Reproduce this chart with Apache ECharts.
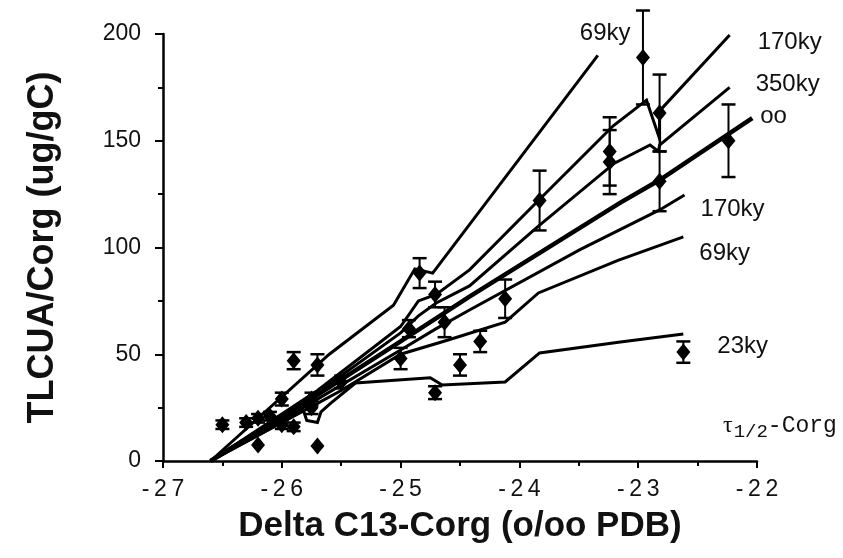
<!DOCTYPE html>
<html>
<head>
<meta charset="utf-8">
<script src="https://cdn.jsdelivr.net/npm/echarts@6/dist/echarts.min.js"></script>
<style>
html,body{margin:0;padding:0;background:#fff;}
#chart{width:843px;height:558px;}
</style>
</head>
<body>
<div id="chart"></div>
<script>
// Observations: [delta13C, TLCUA/Corg, error]
const obsX   = [-26.50,-26.30,-26.20,-26.20,-26.10,-26.00,-26.00,-25.90,-25.90,-25.75,-25.75,-25.70,-25.70,-25.50,-25.00,-24.93,-24.84,-24.71,-24.63,-24.71,-24.50,-24.33,-24.12,-23.83,-23.24,-23.24,-22.96,-22.82,-22.82,-22.24,-22.62];
const obsY   = [17,18,7.5,20,21,29,17,47,16,25,29,45,7,37,48,62,88,78,65,32,45,56,76,122,145,140,189,163,131,150,51];
const obsErr = [2,2,0,2,2,3,2,4,2,3,3,5,0,3,5,4,7,6,7,3,5,5,9,14,16,15,22,18,14,17,5];

// Model curves (tau 1/2 of Corg)
const m69aX  = [-26.6,-25.6,-25.06,-24.88,-24.73,-23.34];
const m69aY  = [0,50,73,90,88,190];
const m170aX = [-26.6,-25.7,-25.0,-24.85,-24.7,-24.42,-23.84,-23.21,-22.93,-22.82,-22.82,-22.23];
const m170aY = [0,33,63,75,78,89.5,122,157,169,151,164,199.5];
const m350X  = [-26.6,-25.7,-25.0,-24.85,-24.7,-24.42,-23.84,-23.2,-22.9,-22.83,-22.82,-22.23];
const m350Y  = [0,32,60,68,74,82,110,139.5,148,145,148,175];
const mInfX  = [-26.6,-25.7,-25.0,-24.42,-23.15,-22.82,-22.04];
const mInfY  = [0,31,56,77,121,131.6,160.6];
const m170bX = [-26.6,-25.7,-25.0,-24.7,-24.42,-23.49,-22.82,-22.61];
const m170bY = [0,29,52,62,70.7,99,117.6,124.6];
const m69bX  = [-26.6,-25.7,-25.5,-25.0,-24.6,-24.12,-23.84,-23.17,-22.62];
const m69bY  = [0,27,33,50,56.7,65,78.7,94,105];
const m23X   = [-26.6,-26.0,-25.82,-25.79,-25.7,-25.67,-25.59,-25.38,-24.75,-24.65,-24.12,-23.83,-23.15,-22.62];
const m23Y   = [0,18,24,19,18,23,27,36.5,39,35.6,37,50.6,55.7,59.5];

const xTickLabels = ['-27','-26','-25','-24','-23','-22'];
const yTickLabels = ['0','50','100','150','200'];

function pairs(xs, ys){ return xs.map((x,i)=>[x, ys[i]]); }

const chart = echarts.init(document.getElementById('chart'), null, {renderer:'canvas'});

const FONT = 'Liberation Sans, Arial, Helvetica, sans-serif';
const labelFont = {fontFamily:FONT, fontSize:24, color:'#111'};

function curve(name, xs, ys, width, labelOffset){
  return {
    type:'line', name:name, data:pairs(xs,ys), symbol:'none', silent:true,
    lineStyle:{color:'#000', width:width, join:'miter', opacity:1},
    z:2,
    endLabel:Object.assign({show:true, formatter:name.trim(), offset:labelOffset}, labelFont),
    animation:false
  };
}

const option = {
  animation:false,
  backgroundColor:'#fff',
  grid:{left:163, right:86, top:34, bottom:97, containLabel:false},
  title:{
    text:'{t|τ}{s|1/2}{c|-Corg}',
    left:718, top:405,
    textStyle:{fontWeight:'normal', rich:{
      t:{fontFamily:'Liberation Serif, DejaVu Serif, serif', fontSize:24, fontWeight:'normal', color:'#111', padding:[0,1,0,0]},
      s:{fontFamily:'Liberation Mono, DejaVu Sans Mono, monospace', fontSize:19, fontWeight:'normal', color:'#111', padding:[12,0,0,0]},
      c:{fontFamily:'Liberation Mono, DejaVu Sans Mono, monospace', fontSize:23, fontWeight:'normal', color:'#111'}
    }}
  },
  xAxis:{
    type:'value', min:-27, max:-22, interval:1,
    name:'Delta C13-Corg (o/oo PDB)', nameLocation:'middle', nameGap:48,
    nameTextStyle:{fontFamily:FONT, fontSize:35, fontWeight:'bold', color:'#111'},
    axisLine:{show:true, onZero:false, lineStyle:{color:'#000', width:2.5}},
    axisTick:{show:true, inside:false, length:7, lineStyle:{color:'#000', width:2}},
    minorTick:{show:true, splitNumber:2, length:5, lineStyle:{color:'#000', width:2}},
    splitLine:{show:false},
    axisLabel:{
      margin:17, color:'#111', fontFamily:FONT, fontSize:23,
      formatter:function(v){ const i = Math.round(v + 27); const s = xTickLabels[i] || String(v); return s.split('').join('\u2009'); }
    }
  },
  yAxis:{
    type:'value', min:0, max:200, interval:50,
    name:'TLCUA/Corg (ug/gC)', nameLocation:'middle', nameGap:102, nameRotate:90,
    nameTextStyle:{fontFamily:FONT, fontSize:36, fontWeight:'bold', color:'#111'},
    axisLine:{show:true, onZero:false, lineStyle:{color:'#000', width:2.5}},
    axisTick:{show:true, inside:false, length:8, lineStyle:{color:'#000', width:2}},
    minorTick:{show:true, splitNumber:2, length:5, lineStyle:{color:'#000', width:2}},
    splitLine:{show:false},
    axisLabel:{
      margin:22, color:'#111', fontFamily:FONT, fontSize:23,
      formatter:function(v){ return yTickLabels[Math.round(v/50)] || String(v); }
    }
  },
  series:[
    curve('69ky', m69aX, m69aY, 3, [-26,-22]),
    curve('170ky', m170aX, m170aY, 3, [20,7]),
    curve('350ky', m350X, m350Y, 3, [18,-3]),
    curve('oo', mInfX, mInfY, 4.5, [0,-2]),
    curve('170ky ', m170bX, m170bY, 3, [8,14]),
    curve('69ky ', m69bX, m69bY, 3, [8,17]),
    curve('23ky', m23X, m23Y, 3, [26,12]),
    {
      type:'custom', name:'err', silent:true, z:3,
      data:obsX.map((x,i)=>[x, obsY[i], obsErr[i]]),
      renderItem:function(params, api){
        const x = api.value(0), y = api.value(1), e = api.value(2);
        if (!e) return {type:'group', children:[]};
        const t = api.coord([x, y+e]), b = api.coord([x, y-e]);
        const w = 7;
        const st = {stroke:'#000', lineWidth:2};
        return {type:'group', children:[
          {type:'line', shape:{x1:t[0], y1:t[1], x2:b[0], y2:b[1]}, style:st},
          {type:'line', shape:{x1:t[0]-w, y1:t[1], x2:t[0]+w, y2:t[1]}, style:{stroke:'#000', lineWidth:2.5}},
          {type:'line', shape:{x1:b[0]-w, y1:b[1], x2:b[0]+w, y2:b[1]}, style:{stroke:'#000', lineWidth:2.5}}
        ]};
      },
      animation:false
    },
    {
      type:'scatter', name:'obs', silent:true, z:4,
      data:pairs(obsX, obsY),
      symbol:'diamond', symbolSize:[14,17],
      itemStyle:{color:'#000', opacity:1},
      animation:false
    }
  ]
};
chart.setOption(option);
</script>
</body>
</html>
